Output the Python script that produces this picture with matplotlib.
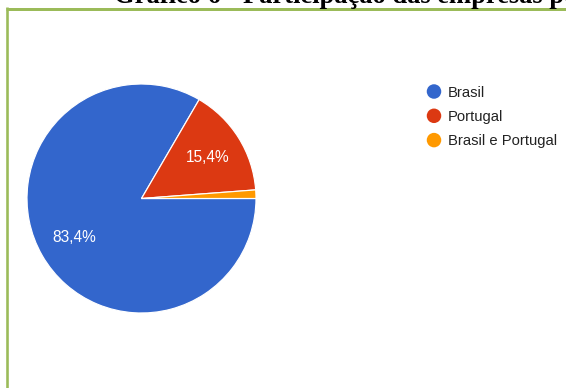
import matplotlib
matplotlib.use("Agg")
import matplotlib.pyplot as plt

# Data
categories = ["Brasil", "Portugal", "Brasil e Portugal"]
shares = [83.4, 15.4, 1.2]
colors = ["#3366cc", "#dc3912", "#ff9900"]
title = "Gráfico 6 - Participação das empresas por origem do capital"

W, H, DPI = 566, 388, 100
fig = plt.figure(figsize=(W / DPI, H / DPI), dpi=DPI)
fig.patch.set_facecolor("white")

def px(v):
    return v * 72.0 / DPI

# Pie area (square, in pixels)
cx, cy, r = 141.5, 198.5, 114.5
ax = fig.add_axes([(cx - r) / W, (H - cy - r) / H, 2 * r / W, 2 * r / H])


def fmt(p):
    return f"{p:.1f}%".replace(".", ",") if p >= 5 else ""


wedges, texts, autotexts = ax.pie(
    shares,
    colors=colors,
    startangle=0,
    counterclock=False,
    autopct=fmt,
    pctdistance=0.68,
    wedgeprops=dict(edgecolor="white", linewidth=px(1.2)),
    textprops=dict(color="white", fontsize=px(15.5), family="Liberation Sans"),
)
ax.set_xlim(-1, 1)
ax.set_ylim(-1, 1)
ax.set_aspect("equal")
ax.axis("off")

# Overlay in pixel coordinates for frame, title and legend
ov = fig.add_axes([0, 0, 1, 1], zorder=5)
ov.set_xlim(0, W)
ov.set_ylim(H, 0)
ov.axis("off")
ov.patch.set_alpha(0)

frame_color = "#9bbb59"
ov.plot([6, W + 2], [8.5, 8.5], color=frame_color, lw=px(3), solid_capstyle="butt")
ov.plot([7.2, 7.2], [7, H + 2], color=frame_color, lw=px(2.6), solid_capstyle="butt")

ov.text(114, 3.2, title, ha="left", va="baseline", fontsize=px(26.5),
        family="Liberation Serif", fontweight="bold", color="black", zorder=6)

# Legend
leg_x, leg_y0, leg_dy = 434, 91.5, 24.3
for i, (name, col) in enumerate(zip(categories, colors)):
    y = leg_y0 + i * leg_dy
    ov.scatter([leg_x], [y], s=px(14.5) ** 2, color=col, edgecolors="none")
    ov.text(leg_x + 14, y + 5.3, name, ha="left", va="baseline",
            fontsize=px(14.7), family="Liberation Sans", color="#222222")

fig.savefig("out.png", dpi=DPI, facecolor="white")
